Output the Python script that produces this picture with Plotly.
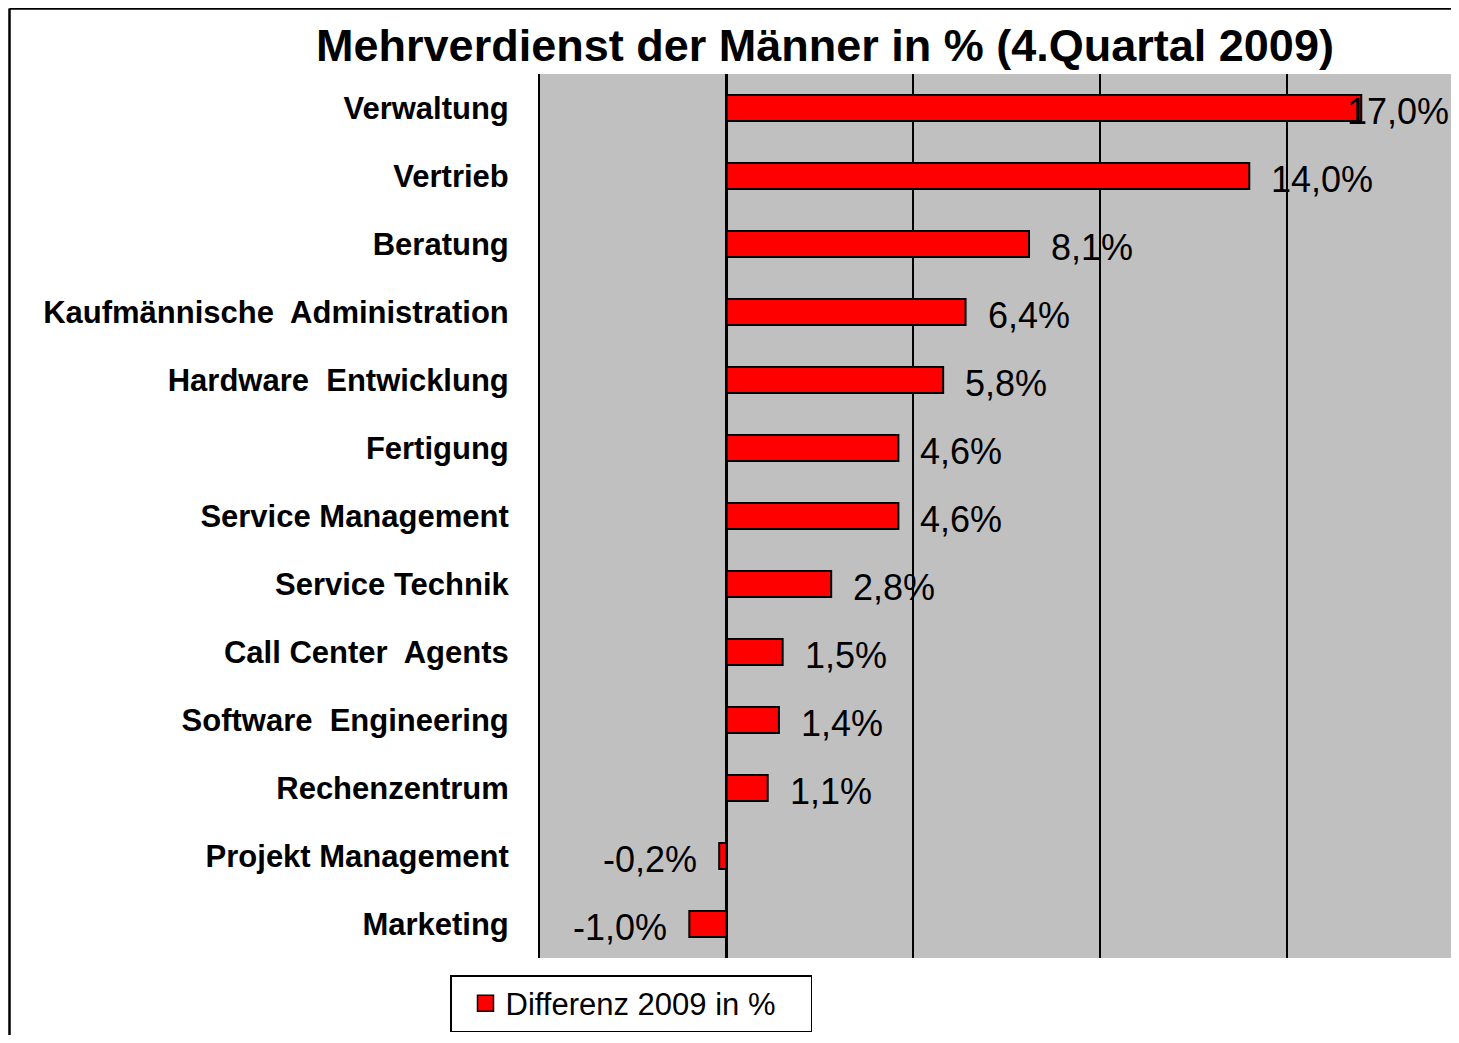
import plotly.graph_objects as go

# data
categories = [
    "Verwaltung",
    "Vertrieb",
    "Beratung",
    "Kaufmännische  Administration",
    "Hardware  Entwicklung",
    "Fertigung",
    "Service Management",
    "Service Technik",
    "Call Center  Agents",
    "Software  Engineering",
    "Rechenzentrum",
    "Projekt Management",
    "Marketing",
]
differenz_2009 = [17.0, 14.0, 8.1, 6.4, 5.8, 4.6, 4.6, 2.8, 1.5, 1.4, 1.1, -0.2, -1.0]
series_name = "Differenz 2009 in %"
chart_title = "Mehrverdienst der Männer in % (4.Quartal 2009)"

# the page body has an 8px margin, so keep the figure inside the window
W, H = 1443, 1027
ML, MR, MT, MB = 532, 0, 66, 77
PW, PH = W - ML - MR, H - MT - MB
X_MIN = -5
PX_PER_UNIT = 37.33
X_MAX = X_MIN + PW / PX_PER_UNIT

FONT = "Liberation Sans, Arial, sans-serif"
LABEL_SIZE = 36
LABEL_GAP = 20


def px_x(px):
    return (px - ML) / PW


def px_y(py):
    return (H - MB - py) / PH


def fmt(v):
    return f"{v:.1f}".replace(".", ",") + "%"


fig = go.Figure()

fig.add_trace(go.Bar(
    x=differenz_2009,
    y=categories,
    orientation="h",
    marker=dict(color="#FF0000", line=dict(color="black", width=2)),
    showlegend=False,
    hoverinfo="x+y",
))

# legend-only trace so the swatch can be a bigger square
fig.add_trace(go.Scatter(
    x=[None], y=[None],
    mode="markers",
    name=series_name,
    marker=dict(symbol="square", size=16, color="#FF0000",
                line=dict(color="black", width=1.5)),
))

# value labels
annotations = []
for cat, v in zip(categories, differenz_2009):
    label_w = len(fmt(v)) * 0.56 * LABEL_SIZE / PX_PER_UNIT
    if v < 0:
        ann = dict(x=v, xanchor="right", xshift=-LABEL_GAP)
    elif v + LABEL_GAP / PX_PER_UNIT + label_w < X_MAX:
        ann = dict(x=v, xanchor="left", xshift=LABEL_GAP)
    else:
        # no room: pull the label back inside the plot edge
        ann = dict(x=X_MAX, xanchor="right", xshift=0)
    ann.update(
        y=cat, xref="x", yref="y",
        text=fmt(v), showarrow=False,
        yanchor="middle", yshift=-3,
        font=dict(family=FONT, size=LABEL_SIZE, color="black"),
    )
    annotations.append(ann)

# outer chart border (top and left visible)
shapes = [
    dict(type="line", xref="paper", yref="paper",
         x0=px_x(1.5), x1=px_x(W + 10), y0=px_y(0.5), y1=px_y(0.5),
         line=dict(color="black", width=2.5)),
    dict(type="line", xref="paper", yref="paper",
         x0=px_x(1.5), x1=px_x(1.5), y0=px_y(0.5), y1=px_y(H + 10),
         line=dict(color="black", width=2.5)),
]

fig.update_layout(
    width=W,
    height=H,
    margin=dict(l=ML, r=MR, t=MT, b=MB, pad=0),
    paper_bgcolor="white",
    plot_bgcolor="#C0C0C0",
    bargap=0.62,
    title=dict(
        text=chart_title,
        x=817 / W, xanchor="center",
        y=1 - 37 / H, yanchor="middle",
        font=dict(family=FONT, size=45, color="black", weight="bold"),
    ),
    xaxis=dict(
        range=[X_MIN, X_MAX],
        dtick=5,
        showticklabels=False,
        showgrid=True,
        gridcolor="black",
        gridwidth=2,
        zeroline=True,
        zerolinecolor="black",
        zerolinewidth=3,
        showline=False,
        fixedrange=True,
    ),
    yaxis=dict(
        autorange="reversed",
        showline=True,
        linecolor="black",
        linewidth=2,
        ticks="",
        ticklabelstandoff=23,
        tickfont=dict(family=FONT, size=31, color="black", weight="bold"),
        showgrid=False,
        fixedrange=True,
    ),
    legend=dict(
        x=px_x(442), xanchor="left",
        y=px_y(967), yanchor="top",
        orientation="h",
        indentation=14,
        entrywidth=300,
        bgcolor="white",
        bordercolor="black",
        borderwidth=1.5,
        font=dict(family=FONT, size=31, color="black"),
    ),
    annotations=annotations,
    shapes=shapes,
)

fig.write_html("out.html")
